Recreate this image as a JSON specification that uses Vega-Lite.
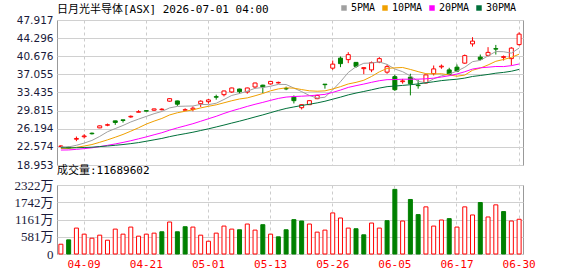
{
  "$schema": "https://vega.github.io/schema/vega-lite/v6.json",
  "background": "#ffffff",
  "padding": {"left": 13, "top": 3, "right": 5, "bottom": 0},
  "bounds": "flush",
  "spacing": 20,
  "config": {
    "view": {"stroke": "#999999", "strokeWidth": 1},
    "axisY": {"labelOverlap": false, "labelFlush": false},
    "axisQuantitative": {"labelOverlap": false},
    "title": {"anchor": "start", "frame": "group", "fontWeight": "normal", "fontSize": 11, "font": "DejaVu Sans Mono, Noto Sans CJK SC", "color": "#000000"}
  },
  "datasets": {
    "k": [
      {"d":"04-06","o":22.65,"h":22.9,"l":22.5,"c":22.75,"v":329,"vu":1,"5PMA":22.6,"10PMA":22.26,"20PMA":21.94,"30PMA":22.40},
      {"d":"04-07","o":22.5,"h":22.6,"l":22.2,"c":22.35,"v":476,"vu":0,"5PMA":22.56,"10PMA":22.28,"20PMA":21.96,"30PMA":22.37},
      {"d":"04-08","o":24.1,"h":24.64,"l":23.71,"c":24.25,"v":872,"vu":1,"5PMA":22.89,"10PMA":22.48,"20PMA":22.08,"30PMA":22.40},
      {"d":"04-09","o":24.6,"h":25.1,"l":24.25,"c":24.75,"v":668,"vu":1,"5PMA":23.33,"10PMA":22.74,"20PMA":22.22,"30PMA":22.45},
      {"d":"04-10","o":25.3,"h":25.44,"l":25.04,"c":25.2,"v":532,"vu":1,"5PMA":23.86,"10PMA":23.04,"20PMA":22.39,"30PMA":22.51},
      {"d":"04-13","o":26.37,"h":26.85,"l":26.3,"c":26.77,"v":634,"vu":1,"5PMA":24.66,"10PMA":23.49,"20PMA":22.63,"30PMA":22.63},
      {"d":"04-14","o":26.9,"h":27.23,"l":26.7,"c":27.0,"v":464,"vu":1,"5PMA":25.59,"10PMA":23.97,"20PMA":22.88,"30PMA":22.75},
      {"d":"04-15","o":27.77,"h":27.8,"l":26.97,"c":27.45,"v":838,"vu":1,"5PMA":26.23,"10PMA":24.50,"20PMA":23.16,"30PMA":22.89},
      {"d":"04-16","o":27.97,"h":28.0,"l":27.43,"c":27.85,"v":668,"vu":1,"5PMA":26.85,"10PMA":25.06,"20PMA":23.46,"30PMA":23.04},
      {"d":"04-17","o":28.55,"h":28.85,"l":28.4,"c":28.68,"v":906,"vu":1,"5PMA":27.55,"10PMA":25.71,"20PMA":23.80,"30PMA":23.22},
      {"d":"04-20","o":29.5,"h":29.9,"l":29.48,"c":29.6,"v":600,"vu":1,"5PMA":28.12,"10PMA":26.39,"20PMA":24.18,"30PMA":23.43},
      {"d":"04-21","o":29.8,"h":29.85,"l":29.68,"c":29.72,"v":668,"vu":1,"5PMA":28.66,"10PMA":27.13,"20PMA":24.57,"30PMA":23.70},
      {"d":"04-22","o":29.9,"h":30.2,"l":29.75,"c":30.16,"v":702,"vu":1,"5PMA":29.20,"10PMA":27.72,"20PMA":24.99,"30PMA":23.98},
      {"d":"04-23","o":30.0,"h":30.3,"l":29.86,"c":30.1,"v":748,"vu":0,"5PMA":29.65,"10PMA":28.25,"20PMA":25.40,"30PMA":24.26},
      {"d":"04-24","o":31.7,"h":32.3,"l":31.6,"c":32.2,"v":1076,"vu":1,"5PMA":30.36,"10PMA":28.95,"20PMA":25.91,"30PMA":24.62},
      {"d":"04-27","o":31.75,"h":31.8,"l":30.75,"c":31.1,"v":748,"vu":0,"5PMA":30.66,"10PMA":29.39,"20PMA":26.37,"30PMA":24.93},
      {"d":"04-28","o":29.9,"h":30.28,"l":29.85,"c":30.0,"v":918,"vu":0,"5PMA":30.71,"10PMA":29.69,"20PMA":26.78,"30PMA":25.21},
      {"d":"04-29","o":30.05,"h":30.66,"l":29.68,"c":30.3,"v":906,"vu":1,"5PMA":30.74,"10PMA":29.97,"20PMA":27.20,"30PMA":25.50},
      {"d":"04-30","o":31.2,"h":31.87,"l":30.55,"c":31.7,"v":634,"vu":1,"5PMA":31.06,"10PMA":30.36,"20PMA":27.69,"30PMA":25.84},
      {"d":"05-01","o":31.6,"h":32.15,"l":31.2,"c":31.95,"v":430,"vu":1,"5PMA":31.01,"10PMA":30.68,"20PMA":28.19,"30PMA":26.18},
      {"d":"05-04","o":32.6,"h":33.0,"l":32.0,"c":32.5,"v":702,"vu":1,"5PMA":31.29,"10PMA":30.97,"20PMA":28.68,"30PMA":26.55},
      {"d":"05-05","o":33.0,"h":33.8,"l":32.66,"c":33.74,"v":940,"vu":1,"5PMA":32.04,"10PMA":31.38,"20PMA":29.25,"30PMA":26.93},
      {"d":"05-06","o":33.54,"h":34.4,"l":33.35,"c":34.34,"v":838,"vu":1,"5PMA":32.85,"10PMA":31.79,"20PMA":29.76,"30PMA":27.33},
      {"d":"05-07","o":34.13,"h":34.2,"l":33.2,"c":33.6,"v":816,"vu":0,"5PMA":33.23,"10PMA":32.14,"20PMA":30.20,"30PMA":27.71},
      {"d":"05-08","o":33.54,"h":34.4,"l":33.2,"c":34.34,"v":1008,"vu":1,"5PMA":33.70,"10PMA":32.36,"20PMA":30.66,"30PMA":28.12},
      {"d":"05-11","o":34.53,"h":35.4,"l":34.2,"c":35.33,"v":804,"vu":1,"5PMA":34.27,"10PMA":32.78,"20PMA":31.08,"30PMA":28.55},
      {"d":"05-12","o":34.9,"h":34.99,"l":33.34,"c":34.55,"v":986,"vu":0,"5PMA":34.43,"10PMA":33.24,"20PMA":31.46,"30PMA":28.96},
      {"d":"05-13","o":35.15,"h":35.7,"l":35.0,"c":35.65,"v":668,"vu":1,"5PMA":34.69,"10PMA":33.77,"20PMA":31.87,"30PMA":29.41},
      {"d":"05-14","o":35.35,"h":35.6,"l":35.2,"c":35.45,"v":578,"vu":0,"5PMA":35.06,"10PMA":34.15,"20PMA":32.25,"30PMA":29.85},
      {"d":"05-15","o":34.25,"h":34.6,"l":33.9,"c":34.15,"v":816,"vu":0,"5PMA":35.03,"10PMA":34.37,"20PMA":32.52,"30PMA":30.25},
      {"d":"05-18","o":32.5,"h":32.85,"l":31.25,"c":31.8,"v":1156,"vu":0,"5PMA":34.32,"10PMA":34.30,"20PMA":32.63,"30PMA":30.55},
      {"d":"05-19","o":30.4,"h":31.1,"l":30.05,"c":31.0,"v":1110,"vu":0,"5PMA":33.61,"10PMA":34.02,"20PMA":32.70,"30PMA":30.84},
      {"d":"05-20","o":31.0,"h":31.85,"l":30.95,"c":31.8,"v":1008,"vu":1,"5PMA":32.84,"10PMA":33.77,"20PMA":32.78,"30PMA":31.09},
      {"d":"05-21","o":32.2,"h":33.0,"l":32.1,"c":32.85,"v":736,"vu":1,"5PMA":32.32,"10PMA":33.69,"20PMA":32.92,"30PMA":31.36},
      {"d":"05-22","o":35.1,"h":35.1,"l":34.2,"c":35.0,"v":804,"vu":1,"5PMA":32.49,"10PMA":33.76,"20PMA":33.06,"30PMA":31.69},
      {"d":"05-26","o":38.3,"h":39.82,"l":37.97,"c":39.1,"v":1382,"vu":1,"5PMA":33.95,"10PMA":34.14,"20PMA":33.46,"30PMA":32.10},
      {"d":"05-27","o":40.3,"h":40.62,"l":38.5,"c":39.2,"v":1212,"vu":1,"5PMA":35.59,"10PMA":34.60,"20PMA":33.92,"30PMA":32.51},
      {"d":"05-28","o":40.0,"h":41.49,"l":39.3,"c":41.0,"v":872,"vu":1,"5PMA":37.43,"10PMA":35.14,"20PMA":34.45,"30PMA":32.96},
      {"d":"05-29","o":39.45,"h":39.5,"l":38.35,"c":38.65,"v":850,"vu":0,"5PMA":38.59,"10PMA":35.46,"20PMA":34.80,"30PMA":33.32},
      {"d":"06-01","o":38.2,"h":38.45,"l":37.1,"c":38.4,"v":646,"vu":0,"5PMA":39.27,"10PMA":35.88,"20PMA":35.12,"30PMA":33.64},
      {"d":"06-02","o":37.95,"h":39.62,"l":37.5,"c":39.4,"v":1042,"vu":1,"5PMA":39.33,"10PMA":36.64,"20PMA":35.47,"30PMA":33.97},
      {"d":"06-03","o":39.5,"h":40.5,"l":39.3,"c":40.2,"v":872,"vu":1,"5PMA":39.53,"10PMA":37.56,"20PMA":35.79,"30PMA":34.32},
      {"d":"06-04","o":37.5,"h":39.03,"l":37.18,"c":38.6,"v":1122,"vu":0,"5PMA":39.05,"10PMA":38.24,"20PMA":36.00,"30PMA":34.60},
      {"d":"06-05","o":36.6,"h":36.98,"l":33.74,"c":34.0,"v":2175,"vu":0,"5PMA":38.12,"10PMA":38.36,"20PMA":36.02,"30PMA":34.73},
      {"d":"06-08","o":35.6,"h":36.15,"l":35.2,"c":35.75,"v":1110,"vu":1,"5PMA":37.59,"10PMA":38.43,"20PMA":36.09,"30PMA":34.85},
      {"d":"06-09","o":36.5,"h":37.18,"l":32.86,"c":35.2,"v":1835,"vu":0,"5PMA":36.75,"10PMA":38.04,"20PMA":36.09,"30PMA":34.99},
      {"d":"06-10","o":34.9,"h":35.98,"l":34.2,"c":34.8,"v":1326,"vu":0,"5PMA":35.67,"10PMA":37.60,"20PMA":36.10,"30PMA":35.15},
      {"d":"06-11","o":35.35,"h":37.0,"l":35.2,"c":36.95,"v":1586,"vu":1,"5PMA":35.34,"10PMA":37.20,"20PMA":36.17,"30PMA":35.37},
      {"d":"06-12","o":37.2,"h":38.83,"l":36.84,"c":38.15,"v":940,"vu":1,"5PMA":36.17,"10PMA":37.15,"20PMA":36.30,"30PMA":35.58},
      {"d":"06-15","o":38.55,"h":39.03,"l":38.17,"c":38.7,"v":1144,"vu":1,"5PMA":36.76,"10PMA":37.18,"20PMA":36.53,"30PMA":35.81},
      {"d":"06-16","o":37.95,"h":38.37,"l":36.84,"c":37.05,"v":1190,"vu":0,"5PMA":37.13,"10PMA":36.94,"20PMA":36.79,"30PMA":35.96},
      {"d":"06-17","o":38.5,"h":39.03,"l":37.5,"c":37.7,"v":906,"vu":1,"5PMA":37.71,"10PMA":36.69,"20PMA":37.13,"30PMA":36.09},
      {"d":"06-18","o":39.3,"h":41.02,"l":39.17,"c":40.8,"v":1586,"vu":1,"5PMA":38.48,"10PMA":36.91,"20PMA":37.58,"30PMA":36.31},
      {"d":"06-22","o":43.15,"h":44.48,"l":42.61,"c":43.7,"v":1314,"vu":1,"5PMA":39.59,"10PMA":37.88,"20PMA":38.12,"30PMA":36.64},
      {"d":"06-23","o":40.5,"h":41.02,"l":39.82,"c":40.05,"v":1733,"vu":0,"5PMA":39.86,"10PMA":38.31,"20PMA":38.37,"30PMA":36.83},
      {"d":"06-24","o":40.85,"h":42.49,"l":40.62,"c":41.45,"v":1246,"vu":1,"5PMA":40.74,"10PMA":38.94,"20PMA":38.49,"30PMA":37.04},
      {"d":"06-25","o":42.2,"h":42.94,"l":41.02,"c":42.1,"v":1654,"vu":1,"5PMA":41.62,"10PMA":39.67,"20PMA":38.63,"30PMA":37.29},
      {"d":"06-26","o":40.45,"h":40.82,"l":39.82,"c":40.6,"v":1428,"vu":0,"5PMA":41.58,"10PMA":40.03,"20PMA":38.61,"30PMA":37.45},
      {"d":"06-29","o":40.2,"h":42.49,"l":38.83,"c":42.3,"v":1110,"vu":1,"5PMA":41.30,"10PMA":40.45,"20PMA":38.80,"30PMA":37.68},
      {"d":"06-30","o":43.0,"h":45.47,"l":42.81,"c":45.1,"v":1169,"vu":1,"5PMA":42.31,"10PMA":41.09,"20PMA":39.13,"30PMA":38.05}
    ]
  },
  "vconcat": [
    {
      "width": 466,
      "height": 145,
      "data": {"name": "k"},
      "title": {"text": "日月光半导体[ASX] 2026-07-01 04:00", "offset": 0},
      "encoding": {
        "x": {
          "field": "d", "type": "ordinal",
          "scale": {"paddingInner": 0, "paddingOuter": 0},
          "axis": {"title": null, "labels": false, "ticks": false, "domain": false, "grid": true, "gridDash": [3, 3], "gridColor": "#cccccc", "bandPosition": 0.5,
                   "values": ["04-09", "04-21", "05-01", "05-13", "05-26", "06-05", "06-17", "06-30"]}
        },
        "y": {"type": "quantitative",
              "scale": {"domain": [18.953, 47.917], "nice": false, "zero": false},
              "axis": {"title": null, "values": [18.953, 22.574, 26.194, 29.815, 33.435, 37.055, 40.676, 44.296, 47.917], "format": ".3f",
                       "ticks": false, "domain": false, "grid": true, "gridColor": "#d0d0d0", "labelOverlap": false, "tickCount": 9,
                       "labelFont": "DejaVu Sans", "labelFontSize": 10.5, "labelColor": "#1a1a3a", "labelPadding": 4, "labelFlush": false}}
      },
      "layer": [
        {
          "mark": {"type": "rule", "strokeWidth": 1},
          "encoding": {
            "y": {"field": "l"},
            "y2": {"field": "h"},
            "color": {"condition": {"test": "datum.c >= datum.o", "value": "#ff0000"}, "value": "#008000"}
          }
        },
        {
          "mark": {"type": "bar", "size": 4, "strokeWidth": 1},
          "encoding": {
            "y": {"field": "o"},
            "y2": {"field": "c"},
            "fill": {"condition": {"test": "datum.c >= datum.o", "value": "#ffffff"}, "value": "#008000"},
            "stroke": {"condition": {"test": "datum.c >= datum.o", "value": "#ff0000"}, "value": "#008000"}
          }
        },
        {
          "transform": [{"fold": ["5PMA", "10PMA", "20PMA", "30PMA"], "as": ["ma", "val"]}],
          "mark": {"type": "line", "strokeWidth": 1},
          "encoding": {
            "y": {"field": "val"},
            "color": {
              "field": "ma", "type": "nominal",
              "scale": {"domain": ["5PMA", "10PMA", "20PMA", "30PMA"], "range": ["#a0a0a0", "#f0a000", "#ff00ff", "#00703a"]},
              "legend": {"title": null, "orient": "none", "legendX": 282, "legendY": -17, "direction": "horizontal",
                         "gridAlign": "none", "symbolType": "square", "symbolSize": 30, "symbolStrokeWidth": 0,
                         "labelFont": "DejaVu Sans Mono", "labelFontSize": 10, "labelColor": "#000000",
                         "columnPadding": 4, "labelOffset": 2,
                         "encode": {"symbols": {"update": {"fill": {"scale": "color", "field": "value"}}}}}
            }
          }
        }
      ]
    },
    {
      "width": 466,
      "height": 69,
      "data": {"name": "k"},
      "title": {"text": "成交量:11689602", "offset": 3},
      "mark": {"type": "bar", "size": 4, "strokeWidth": 1},
      "encoding": {
        "x": {
          "field": "d", "type": "ordinal",
          "scale": {"paddingInner": 0, "paddingOuter": 0},
          "axis": {"title": null, "labelAngle": 0, "labelColor": "#ff0000", "labelFont": "DejaVu Sans Mono", "labelFontSize": 11,
                   "ticks": false, "domain": false, "grid": true, "gridDash": [3, 3], "gridColor": "#cccccc", "bandPosition": 0.5, "labelPadding": 4,
                   "values": ["04-09", "04-21", "05-01", "05-13", "05-26", "06-05", "06-17", "06-30"]}
        },
        "y": {
          "field": "v", "type": "quantitative",
          "scale": {"domain": [0, 2322], "nice": false},
          "axis": {"title": null, "values": [0, 580.5, 1161, 1741.5, 2322],
                   "labelExpr": "datum.value == 0 ? '0' : format(round(datum.value), 'd') + '万'", "labelOverlap": false,
                   "ticks": false, "domain": false, "grid": true, "gridColor": "#d0d0d0",
                   "labelFont": "Liberation Serif, Noto Sans CJK SC", "labelFontSize": 13, "labelColor": "#1a1a3a", "labelPadding": 4, "labelFlush": false}
        },
        "fill": {"condition": {"test": "datum.vu == 1", "value": "#ffffff"}, "value": "#008000"},
        "stroke": {"condition": {"test": "datum.vu == 1", "value": "#ff0000"}, "value": "#008000"}
      }
    }
  ]
}
